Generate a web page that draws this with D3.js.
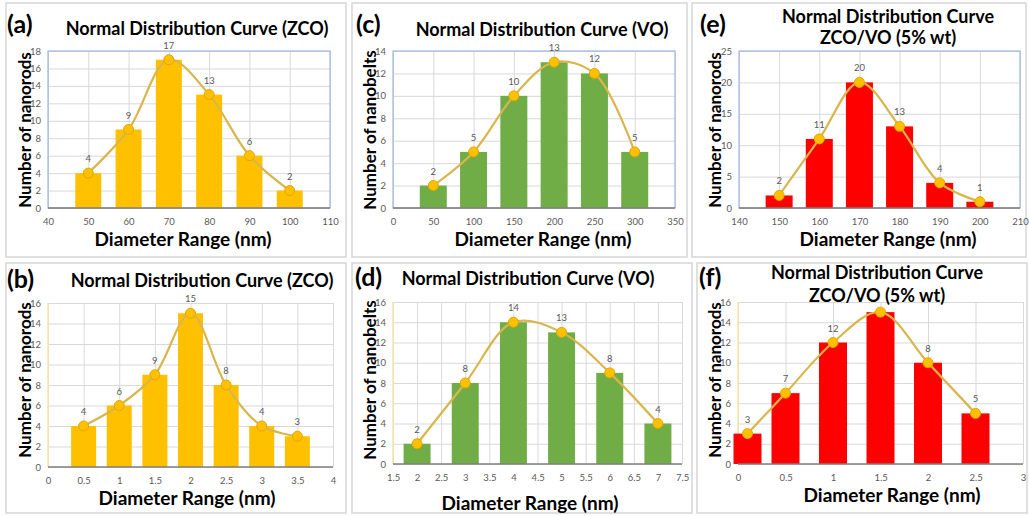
<!DOCTYPE html>
<html><head><meta charset="utf-8">
<script src="https://cdn.jsdelivr.net/npm/d3@7"></script>
<style>
body{margin:0;background:#fff;}
svg{display:block;}
</style></head>
<body>
<svg id="chart" width="1029" height="516"></svg>
<script>
// ---------- DATA ----------
const aDiameter = [50, 60, 70, 80, 90, 100];
const aCount    = [4, 9, 17, 13, 6, 2];
const aLabels   = ["4", "9", "17", "13", "6", "2"];
const aXTicks   = [40, 50, 60, 70, 80, 90, 100, 110];
const aYTicks   = [0, 2, 4, 6, 8, 10, 12, 14, 16, 18];

const bDiameter = [0.5, 1, 1.5, 2, 2.5, 3, 3.5];
const bCount    = [4, 6, 9, 15, 8, 4, 3];
const bLabels   = ["4", "6", "9", "15", "8", "4", "3"];
const bXTicks   = [0, 0.5, 1, 1.5, 2, 2.5, 3, 3.5, 4];
const bYTicks   = [0, 2, 4, 6, 8, 10, 12, 14, 16];

const cDiameter = [50, 100, 150, 200, 250, 300];
const cCount    = [2, 5, 10, 13, 12, 5];
const cLabels   = ["2", "5", "10", "13", "12", "5"];
const cXTicks   = [0, 50, 100, 150, 200, 250, 300, 350];
const cYTicks   = [0, 2, 4, 6, 8, 10, 12, 14];

const dDiameter = [2, 3, 4, 5, 6, 7];
const dCount    = [2, 8, 14, 13, 9, 4];
const dLabels   = ["2", "8", "14", "13", "8", "4"];
const dXTicks   = [1.5, 2, 2.5, 3, 3.5, 4, 4.5, 5, 5.5, 6, 6.5, 7, 7.5];
const dYTicks   = [0, 2, 4, 6, 8, 10, 12, 14, 16];

const eDiameter = [150, 160, 170, 180, 190, 200];
const eCount    = [2, 11, 20, 13, 4, 1];
const eLabels   = ["2", "11", "20", "13", "4", "1"];
const eXTicks   = [140, 150, 160, 170, 180, 190, 200, 210];
const eYTicks   = [0, 5, 10, 15, 20, 25];

const fDiameter = [0.1, 0.5, 1, 1.5, 2, 2.5];
const fCount    = [3, 7, 12, 15, 10, 5];
const fLabels   = ["3", "7", "12", "", "8", "5"];
const fXTicks   = [0, 0.5, 1, 1.5, 2, 2.5, 3];
const fYTicks   = [0, 2, 4, 6, 8, 10, 12, 14, 16];

const panelTags   = ["(a)", "(b)", "(c)", "(d)", "(e)", "(f)"];
const panelTitles = [
  ["Normal Distribution Curve (ZCO)"],
  ["Normal Distribution Curve (ZCO)"],
  ["Normal Distribution Curve (VO)"],
  ["Normal Distribution Curve (VO)"],
  ["Normal Distribution Curve", "ZCO/VO (5% wt)"],
  ["Normal Distribution Curve", "ZCO/VO (5% wt)"]
];
const yTitles = ["Number of nanorods", "Number of nanorods", "Number of nanobelts",
                 "Number of nanobelts", "Number of nanorods", "Number of nanorods"];
const xTitle = "Diameter Range (nm)";

// ---------- LAYOUT / STYLE ----------
const YELLOW = "#FFC000", GREEN = "#70AD47", RED = "#FF0000";
const panels = [
  {x: aDiameter, y: aCount, lab: aLabels, xt: aXTicks, yt: aYTicks, color: YELLOW, boxed: true,
   frame: [6, 3, 340, 254], plot: [48, 51, 330, 208], bw: 26,
   tag: [7, 33], title: [197, [35]], xtl: [183, 246], ytl: [24, 130]},
  {x: bDiameter, y: bCount, lab: bLabels, xt: bXTicks, yt: bYTicks, color: YELLOW, boxed: false,
   frame: [6, 263, 340, 250], plot: [48, 303, 333, 467], bw: 25,
   tag: [7, 288], title: [202, [287]], xtl: [187, 505], ytl: [24, 380]},
  {x: cDiameter, y: cCount, lab: cLabels, xt: cXTicks, yt: cYTicks, color: GREEN, boxed: true,
   frame: [352, 3, 335, 254], plot: [393, 51, 675, 208], bw: 27,
   tag: [356, 33], title: [542, [36]], xtl: [543, 246], ytl: [369, 130]},
  {x: dDiameter, y: dCount, lab: dLabels, xt: dXTicks, yt: dYTicks, color: GREEN, boxed: false,
   frame: [352, 263, 340, 250], plot: [393, 302, 682, 464], bw: 27,
   tag: [355, 286], title: [528, [285]], xtl: [530, 510], ytl: [369, 380]},
  {x: eDiameter, y: eCount, lab: eLabels, xt: eXTicks, yt: eYTicks, color: RED, boxed: true,
   frame: [692, 3, 334, 254], plot: [739, 51, 1020, 208], bw: 27,
   tag: [700, 33], title: [888, [23, 44]], xtl: [888, 246], ytl: [714, 130]},
  {x: fDiameter, y: fCount, lab: fLabels, xt: fXTicks, yt: fYTicks, color: RED, boxed: false,
   frame: [697, 263, 330, 250], plot: [738, 302, 1023, 464], bw: 28,
   tag: [699, 286], title: [877, [279, 302]], xtl: [892, 502], ytl: [714, 380]}
];

const svg = d3.select("#chart");
const FONT = "Lato, 'Open Sans', sans-serif";

panels.forEach((p, i) => {
  const g = svg.append("g");
  const [fx, fy, fw, fh] = p.frame;
  g.append("rect").attr("x", fx).attr("y", fy).attr("width", fw).attr("height", fh)
    .attr("fill", "#fff").attr("stroke", "#d6d6d6").attr("stroke-width", 1.5);

  const [l, t, r, b] = p.plot;
  const xs = d3.scaleLinear().domain([p.xt[0], p.xt[p.xt.length - 1]]).range([l, r]);
  const ys = d3.scaleLinear().domain([p.yt[0], p.yt[p.yt.length - 1]]).range([b, t]);

  // grid
  g.append("g").attr("transform", `translate(0,${b})`)
    .call(d3.axisBottom(xs).tickValues(p.xt).tickSize(-(b - t)).tickFormat(""))
    .call(s => s.select(".domain").remove())
    .call(s => s.selectAll("line").attr("stroke", "#d9d9d9").attr("stroke-width", 1));
  g.append("g").attr("transform", `translate(${l},0)`)
    .call(d3.axisLeft(ys).tickValues(p.yt).tickSize(-(r - l)).tickFormat(""))
    .call(s => s.select(".domain").remove())
    .call(s => s.selectAll("line").attr("stroke", "#d9d9d9").attr("stroke-width", 1));

  if (p.boxed) {
    g.append("rect").attr("x", l).attr("y", t).attr("width", r - l).attr("height", b - t)
      .attr("fill", "none").attr("stroke", "#9fb8dc").attr("stroke-width", 1.2);
  } else {
    g.append("line").attr("x1", l).attr("x2", l).attr("y1", t).attr("y2", b)
      .attr("stroke", "#fbe3a6").attr("stroke-width", 1.5);
  }

  // bars
  g.selectAll("rect.bar").data(p.x).enter().append("rect").attr("class", "bar")
    .attr("x", d => xs(d) - p.bw / 2).attr("width", p.bw)
    .attr("y", (d, k) => ys(p.y[k])).attr("height", (d, k) => b - ys(p.y[k]))
    .attr("fill", p.color);

  // x axis line
  g.append("line").attr("x1", l).attr("x2", r).attr("y1", b).attr("y2", b)
    .attr("stroke", "#7f7f7f").attr("stroke-width", 1.5);

  // tick labels via axes
  const xa = g.append("g").attr("transform", `translate(0,${b})`)
    .call(d3.axisBottom(xs).tickValues(p.xt).tickSize(0).tickPadding(10).tickFormat(d3.format("")));
  xa.select(".domain").remove();
  xa.selectAll("text").attr("fill", "#595959").style("font", `9.5px ${FONT}`);
  const ya = g.append("g").attr("transform", `translate(${l},0)`)
    .call(d3.axisLeft(ys).tickValues(p.yt).tickSize(0).tickPadding(7).tickFormat(d3.format("")));
  ya.select(".domain").remove();
  ya.selectAll("text").attr("fill", "#595959").style("font", `9.5px ${FONT}`);

  // smooth curve
  const pts = p.x.map((d, k) => [d, p.y[k]]);
  const line = d3.line().x(d => xs(d[0])).y(d => ys(d[1])).curve(d3.curveCatmullRom.alpha(0.5));
  g.append("path").attr("d", line(pts)).attr("fill", "none")
    .attr("stroke", "#D9B64C").attr("stroke-width", 2.2);
  g.selectAll("circle").data(pts).enter().append("circle")
    .attr("cx", d => xs(d[0])).attr("cy", d => ys(d[1])).attr("r", 5)
    .attr("fill", "#FFC000").attr("stroke", "#E0A800").attr("stroke-width", 1);

  // data labels
  g.selectAll("text.lab").data(pts).enter().append("text").attr("class", "lab")
    .attr("x", d => xs(d[0])).attr("y", d => ys(d[1]) - 11)
    .attr("text-anchor", "middle").attr("fill", "#595959")
    .style("font", `9.5px ${FONT}`).text((d, k) => p.lab[k]);

  // titles
  g.append("text").attr("x", p.tag[0]).attr("y", p.tag[1]).text(panelTags[i])
    .style("font", `bold 25px ${FONT}`).attr("fill", "#000");
  panelTitles[i].forEach((tx, k) => {
    g.append("text").attr("x", p.title[0]).attr("y", p.title[1][k]).attr("text-anchor", "middle")
      .style("font", `bold 18px ${FONT}`).attr("fill", "#000").text(tx);
  });
  g.append("text").attr("x", p.xtl[0]).attr("y", p.xtl[1]).attr("text-anchor", "middle")
    .style("font", `bold 19px ${FONT}`).attr("fill", "#000").text(xTitle);
  g.append("text").attr("transform", `translate(${p.ytl[0] + 7},${p.ytl[1]}) rotate(-90)`)
    .attr("text-anchor", "middle")
    .style("font", `bold 17px ${FONT}`).attr("fill", "#000").text(yTitles[i]);
});
</script>
</body></html>
